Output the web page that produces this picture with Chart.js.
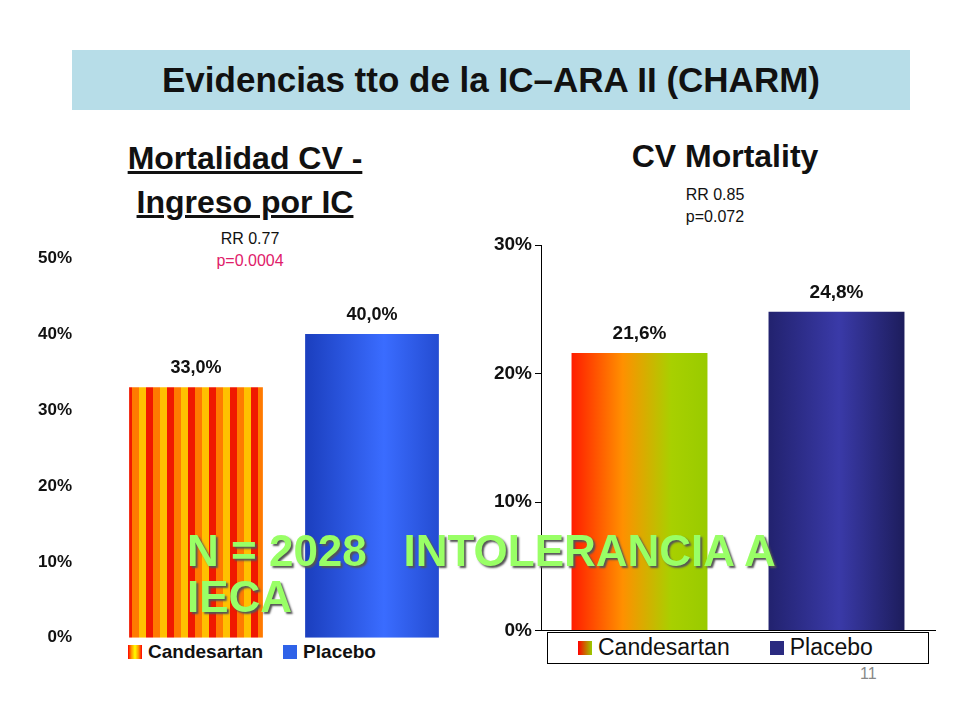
<!DOCTYPE html>
<html><head><meta charset="utf-8">
<script src="https://cdn.jsdelivr.net/npm/chart.js@4"></script>
<style>
body{margin:0;width:960px;height:720px;background:#fff;font-family:"Liberation Sans",Arial,sans-serif;position:relative;overflow:hidden}
.abs{position:absolute}
#title{left:72px;top:50px;width:838px;height:60px;background:#b7dde8;font-weight:bold;font-size:35px;text-align:center;line-height:60px;color:#111}
.sub{font-weight:bold;font-size:32px;text-align:center;color:#111}
.small{font-size:16px;text-align:center;color:#111}
.leg{font-weight:bold;font-size:19px;color:#111;display:flex;align-items:center}
.sw{display:inline-block;width:14px;height:14px;margin-right:6px}
#nn{left:187px;top:528px;font-weight:bold;font-size:44px;color:#99ff66;text-shadow:2px 2px 2px #555;line-height:46px;width:700px}
</style></head><body>
<div id="title" class="abs">Evidencias tto de la IC–ARA II (CHARM)</div>
<div class="abs sub" style="left:90px;top:136px;width:310px;line-height:44px;text-decoration:underline">Mortalidad CV -<br>Ingreso por IC</div>
<div class="abs small" style="left:190px;top:228px;width:120px;line-height:22px">RR 0.77<br><span style="color:#e0206a">p=0.0004</span></div>
<div class="abs sub" style="left:590px;top:138px;width:270px">CV Mortality</div>
<div class="abs small" style="left:655px;top:184px;width:120px;line-height:22px">RR 0.85<br>p=0.072</div>
<div class="abs leg" style="left:128px;top:641px"><span class="sw" style="background:linear-gradient(90deg,#f00,#f90,#ff0,#f90,#f00)"></span>Candesartan<span class="sw" style="margin-left:20px;background:#2f62e8"></span>Placebo</div>
<div class="abs" style="left:547px;top:632px;width:380px;height:30px;border:1px solid #000;background:#fff"></div>
<div class="abs leg" style="left:578px;top:634px;font-weight:normal;font-size:23px"><span class="sw" style="background:linear-gradient(90deg,#f00,#9c0)"></span>Candesartan<span class="sw" style="margin-left:40px;background:#2a2a80"></span>Placebo</div>
<div class="abs" style="left:20px;top:220px;width:440px;height:456px"><canvas id="c1"></canvas></div>
<div class="abs" style="left:480px;top:230px;width:460px;height:415px"><canvas id="c2"></canvas></div>
<div id="nn" class="abs">N = 2028 &nbsp;&nbsp;INTOLERANCIA A IECA</div>
<div class="abs" style="left:860px;top:665px;font-size:16px;color:#888">11</div>
<script>
const categories = ['Candesartan', 'Placebo'];
const leftValues = [33.0, 40.0];
const leftLabels = ['33,0%', '40,0%'];
const rightValues = [21.6, 24.8];
const rightLabels = ['21,6%', '24,8%'];

function stripes(ctx) {
  const c = document.createElement('canvas');
  c.width = 21; c.height = 10;
  const x = c.getContext('2d');
  ['#f01800', '#ff7a00', '#ffc000'].forEach((col, i) => { x.fillStyle = col; x.fillRect(i * 7, 0, 7, 10); });
  return ctx.createPattern(c, 'repeat');
}

const valueLabels = {
  id: 'valueLabels',
  afterDatasetsDraw(chart, args, opts) {
    const ctx = chart.ctx;
    chart.getDatasetMeta(0).data.forEach((bar, i) => {
      ctx.save();
      ctx.font = opts.font;
      ctx.fillStyle = '#111';
      ctx.textAlign = 'center';
      ctx.fillText(opts.labels[i], bar.x, bar.y - 14);
      ctx.restore();
    });
  }
};

const c1 = document.getElementById('c1');
new Chart(c1, {
  type: 'bar',
  data: { labels: categories, datasets: [{ data: leftValues,
    backgroundColor: ctx => {
      const ch = ctx.chart;
      if (ctx.dataIndex === 0) return stripes(ch.ctx);
      const a = ch.chartArea || { left: 0, right: 400 };
      const g = ch.ctx.createLinearGradient(a.left + 200, 0, a.right, 0);
      g.addColorStop(0, '#1c40c0'); g.addColorStop(0.5, '#3a6cff'); g.addColorStop(1, '#1c40c0');
      return g;
    },
    barPercentage: 0.76, categoryPercentage: 1 }] },
  options: {
    responsive: true, maintainAspectRatio: false, animation: false,
    layout: { padding: { top: 16, bottom: 4 } },
    plugins: { legend: { display: false }, tooltip: { enabled: false },
      valueLabels: { labels: leftLabels, font: 'bold 18px "Liberation Sans"' } },
    scales: {
      x: { display: false },
      y: { min: 0, max: 50, grid: { display: false }, border: { display: false },
        afterFit: s => { s.width = 88; },
        ticks: { stepSize: 10, padding: 28, color: '#111', font: { family: 'Liberation Sans', size: 17, weight: 'bold' }, callback: v => v + '%' } }
    }
  },
  plugins: [valueLabels]
});

const c2 = document.getElementById('c2');
new Chart(c2, {
  type: 'bar',
  data: { labels: categories, datasets: [{ data: rightValues,
    backgroundColor: ctx => {
      const ch = ctx.chart;
      const a = ch.chartArea || { left: 0, right: 400 };
      const mid = (a.left + a.right) / 2;
      if (ctx.dataIndex === 0) {
        const g = ch.ctx.createLinearGradient(a.left + 25, 0, mid - 10, 0);
        g.addColorStop(0, '#ff1000'); g.addColorStop(0.35, '#ff9000'); g.addColorStop(0.65, '#a8d000'); g.addColorStop(1, '#90c800');
        return g;
      }
      const g = ch.ctx.createLinearGradient(mid + 25, 0, a.right - 20, 0);
      g.addColorStop(0, '#20206a'); g.addColorStop(0.5, '#3a3aa8'); g.addColorStop(1, '#181850');
      return g;
    },
    barPercentage: 0.69, categoryPercentage: 1 }] },
  options: {
    responsive: true, maintainAspectRatio: false, animation: false,
    layout: { padding: { top: 15, right: 5 } },
    plugins: { legend: { display: false }, tooltip: { enabled: false },
      valueLabels: { labels: rightLabels, font: 'bold 19px "Liberation Sans"' } },
    scales: {
      x: { ticks: { display: false }, grid: { display: false, drawTicks: false }, border: { color: '#000' } },
      y: { min: 0, max: 30, border: { color: '#000' },
        grid: { drawOnChartArea: false, tickLength: 6, color: '#000' },
        afterFit: s => { s.width = 61; },
        ticks: { stepSize: 10, color: '#111', font: { family: 'Liberation Sans', size: 19, weight: 'bold' }, callback: v => v + '%' } }
    }
  },
  plugins: [valueLabels]
});
</script>
</body></html>
